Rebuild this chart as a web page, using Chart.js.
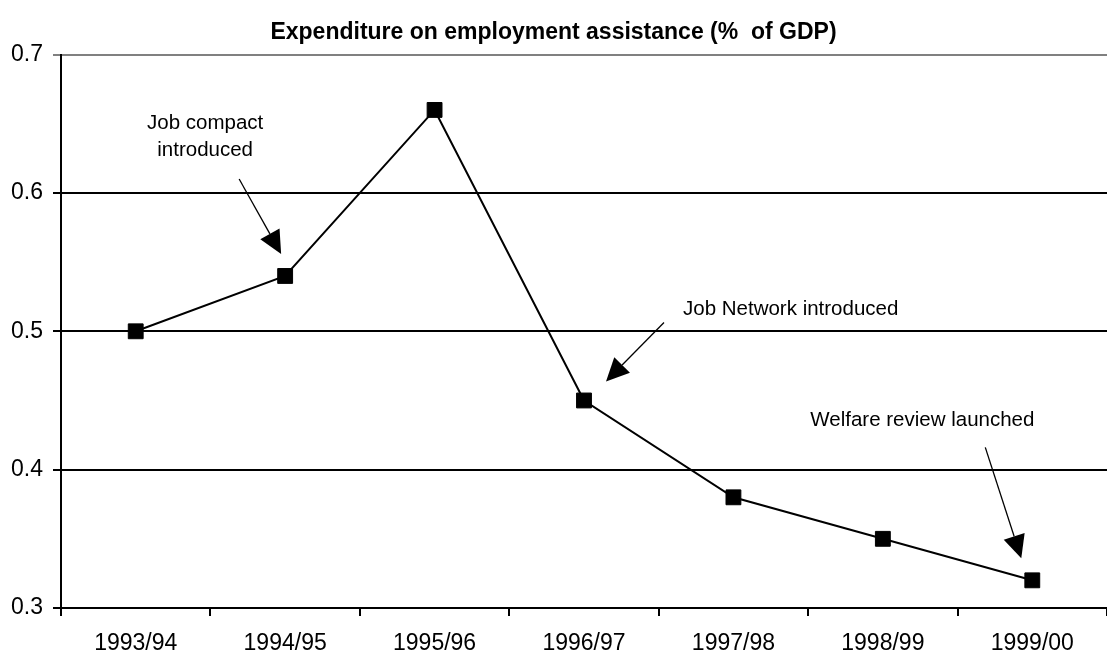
<!DOCTYPE html>
<html>
<head>
<meta charset="utf-8">
<script src="https://cdn.jsdelivr.net/npm/chart.js@4"></script>
<style>
  body { margin: 0; background: #fff; }
</style>
</head>
<body>
<canvas id="myChart" width="1107" height="655"></canvas>
<script>
var years = ['1993/94', '1994/95', '1995/96', '1996/97', '1997/98', '1998/99', '1999/00'];
var spending = [0.50, 0.54, 0.66, 0.45, 0.38, 0.35, 0.32];
var yTicks = [0.3, 0.4, 0.5, 0.6, 0.7];

var noteIndex = [1, 3, 6];
var noteText = [['Job compact', 'introduced'], ['Job Network introduced'], ['Welfare review launched']];

var font = 'Arial, "Liberation Sans", sans-serif';

// callouts: text block + arrow, placed relative to the point they mark
var noteLayout = [
  { align: 'center', tx: -80, ty: -153, sx: -46, sy: -97, ex: -4, ey: -22 },
  { align: 'left', tx: 99, ty: -91, sx: 80, sy: -78, ex: 22, ey: -19 },
  { align: 'left', tx: -222, ty: -160, sx: -47, sy: -133, ex: -11, ey: -22 }
];

var callouts = {
  id: 'callouts',
  afterDatasetsDraw: function(chart) {
    var ctx = chart.ctx;
    var xs = chart.scales.x, ys = chart.scales.y;
    ctx.save();
    ctx.fillStyle = '#000';
    ctx.strokeStyle = '#000';
    ctx.font = '20.5px ' + font;
    ctx.textBaseline = 'middle';
    noteIndex.forEach(function(idx, i) {
      var px = xs.getPixelForValue(idx);
      var py = ys.getPixelForValue(spending[idx]);
      var l = noteLayout[i];
      ctx.textAlign = l.align;
      noteText[i].forEach(function(line, j) {
        ctx.fillText(line, px + l.tx, py + l.ty + j * 27);
      });
      var x1 = px + l.sx, y1 = py + l.sy, x2 = px + l.ex, y2 = py + l.ey;
      var ang = Math.atan2(y2 - y1, x2 - x1);
      var headLen = 23, headW = 11;
      var bx = x2 - headLen * Math.cos(ang), by = y2 - headLen * Math.sin(ang);
      ctx.lineWidth = 1.3;
      ctx.beginPath();
      ctx.moveTo(x1, y1);
      ctx.lineTo(bx, by);
      ctx.stroke();
      ctx.beginPath();
      ctx.moveTo(x2, y2);
      ctx.lineTo(bx + headW * Math.sin(ang), by - headW * Math.cos(ang));
      ctx.lineTo(bx - headW * Math.sin(ang), by + headW * Math.cos(ang));
      ctx.closePath();
      ctx.fill();
    });
    ctx.restore();
  }
};

var ctx = document.getElementById('myChart').getContext('2d');
var myChart = new Chart(ctx, {
  type: 'line',
  data: {
    labels: years,
    datasets: [{
      data: spending,
      borderColor: '#000',
      borderWidth: 2,
      backgroundColor: '#000',
      pointStyle: 'rect',
      pointRadius: 10.5,
      pointBorderWidth: 1,
      pointBorderColor: '#000',
      pointBackgroundColor: '#000',
      tension: 0,
      clip: false
    }]
  },
  options: {
    responsive: false,
    animation: false,
    layout: { padding: 0, autoPadding: false },
    plugins: {
      legend: { display: false },
      tooltip: { enabled: false },
      title: {
        display: true,
        text: 'Expenditure on employment assistance (%  of GDP)',
        color: '#000',
        font: { family: font, size: 23, weight: 'bold' },
        padding: { top: 19, bottom: 8 }
      }
    },
    scales: {
      x: {
        offset: true,
        grid: { offset: true, drawOnChartArea: false, drawTicks: true, tickLength: 8, color: '#000', lineWidth: 2 },
        border: { color: '#000', width: 2 },
        ticks: { color: '#000', font: { family: font, size: 23 }, padding: 14, maxRotation: 0 },
        afterFit: function(axis) {
          axis.height = 47;
          axis.paddingLeft = 0;
          axis.paddingRight = 0;
        }
      },
      y: {
        min: 0.3,
        max: 0.7,
        afterBuildTicks: function(axis) {
          axis.ticks = yTicks.map(function(v) { return { value: v }; });
        },
        grid: {
          color: function(c) { return c.tick && c.tick.value === 0.7 ? '#808080' : '#000'; },
          lineWidth: 2,
          tickLength: 8
        },
        border: { color: '#000', width: 2 },
        ticks: {
          color: '#000',
          font: { family: font, size: 23 },
          padding: 10,
          callback: function(v) { return v.toFixed(1); }
        },
        afterFit: function(axis) { axis.width = 61; }
      }
    }
  },
  plugins: [callouts]
});
</script>
</body>
</html>
